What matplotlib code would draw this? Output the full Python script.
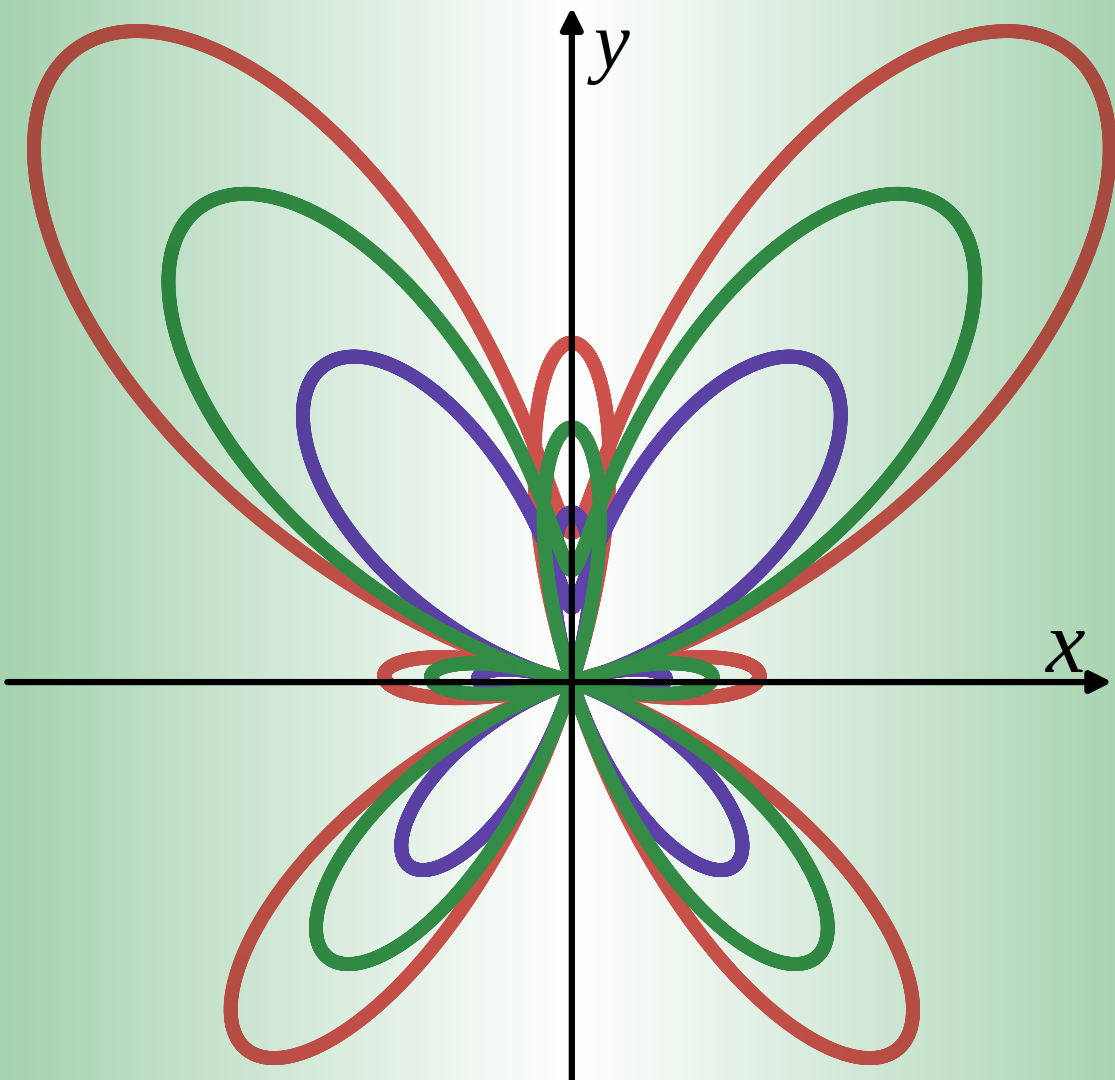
import numpy as np
import matplotlib.pyplot as plt
from matplotlib.collections import LineCollection

plt.rcParams['mathtext.fontset'] = 'custom'
plt.rcParams['mathtext.it'] = 'Liberation Serif:italic'
plt.rcParams['mathtext.rm'] = 'Liberation Serif'

# curve family r = k * (e^sin(t) - 2 cos(4t)), drawn back to front
curve_names = ['outer', 'inner', 'middle']
curve_scales = [1.0, 0.5, 0.75]
curve_colors = [(208, 82, 76), (96, 66, 172), (52, 142, 72)]

bg_edge = np.array([165, 210, 175]) / 255.0
bg_center = np.array([255, 255, 255]) / 255.0

x_lim = (-3.09, 2.935)
y_lim = (-1.913, 3.279)
half_w = 3.09


def bg_at(x):
    t = np.clip(np.abs(x) / half_w, 0, 1)[:, None]
    return bg_center * (1 - t) + bg_edge * t


fig = plt.figure(figsize=(11.15, 10.8), dpi=100)
ax = fig.add_axes([0, 0, 1, 1])
ax.set_xlim(*x_lim)
ax.set_ylim(*y_lim)
ax.axis('off')

# background gradient, white in the middle, green at the sides
xs = np.linspace(x_lim[0], x_lim[1], 600)
grad = np.repeat(bg_at(xs)[None, :, :], 2, axis=0)
ax.imshow(grad, extent=[x_lim[0], x_lim[1], y_lim[0], y_lim[1]],
          aspect='auto', zorder=0, interpolation='bilinear')

theta = np.linspace(0, 2 * np.pi, 4000)
base_r = np.exp(np.sin(theta)) - 2 * np.cos(4 * theta)

for i, (name, k, col) in enumerate(zip(curve_names, curve_scales, curve_colors)):
    r = k * base_r
    x = r * np.cos(theta)
    y = r * np.sin(theta)
    pts = np.column_stack([x, y])
    segs = np.stack([pts[:-1], pts[1:]], axis=1)
    mid_x = 0.5 * (x[:-1] + x[1:])
    # darken the line colour toward the green edges
    shade = 1 - 0.6 * (1 - bg_at(mid_x))
    cols = np.clip(np.array(col) / 255.0 * shade, 0, 1)
    lc = LineCollection(segs, colors=cols, linewidths=10,
                        capstyle='round', joinstyle='round', zorder=2 + i)
    ax.add_collection(lc)

# axes with arrow heads
arrow = dict(arrowstyle='-|>', lw=4.5, color='black', mutation_scale=32,
             shrinkA=0, shrinkB=0)
ax.annotate('', xy=(2.92, 0), xytext=(-3.05, 0), arrowprops=arrow, zorder=10)
ax.annotate('', xy=(0, 3.245), xytext=(0, -1.913), arrowprops=arrow, zorder=10)

ax.text(2.55, 0.05, r'$x$', fontsize=64, ha='left', va='baseline', zorder=11)
ax.text(0.08, 2.95, r'$y$', fontsize=58, ha='left', va='baseline', zorder=11)

fig.savefig('out.png', dpi=100)
plt.close(fig)
